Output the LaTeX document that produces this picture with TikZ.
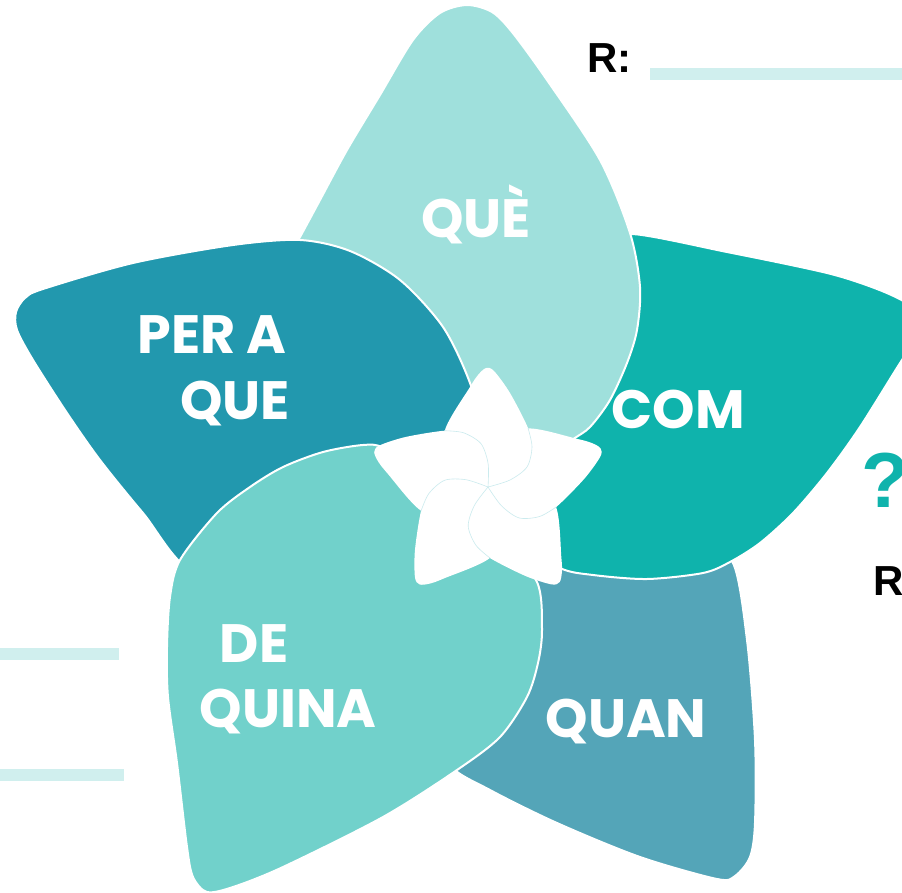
\documentclass[tikz,border=0pt]{standalone}
\usepackage{fontspec}
\newfontfamily\petalfont{Poppins}
\newfontfamily\answerfont{Liberation Sans}
\usetikzlibrary{positioning}
\definecolor{queColor}{HTML}{9FE0DC}
\definecolor{comColor}{HTML}{0FB3AC}
\definecolor{quanColor}{HTML}{54A5B8}
\definecolor{quinaColor}{HTML}{71D1CB}
\definecolor{peraColor}{HTML}{2298AE}
\definecolor{barColor}{HTML}{D0EFEE}
\definecolor{seamColor}{HTML}{CBEBEE}
\tikzset{
    petal/.style={
                fill=#1,
                draw=white,
                line width=2pt,
                line join=round
            },
    word/.style={
                text=white,
                font=\petalfont\bfseries\fontsize{54}{60}\selectfont,
                inner sep=0pt,
                anchor=base
            },
    answer/.style={
                font=\answerfont\bfseries\fontsize{42}{46}\selectfont,
                inner sep=0pt,
                anchor=base west
            },
    bar/.style={fill=barColor},
    seam/.style={draw=seamColor, line width=0.6pt},
}

\begin{document}
\begin{tikzpicture}[x=1pt,y=-1pt]
  \useasboundingbox (0,0) rectangle (902,893);
  \clip (0,0) rectangle (902,893);
  % Answer lines
  \fill[bar] (650,68) rectangle (902,80);
  \fill[bar] (0,648) rectangle (119,660);
  \fill[bar] (0,769) rectangle (124,781);
  \node[answer] (rtop) at (587,73) {R:};
  \node[answer] (rright) at (873,595) {R:};
  \node[answer, text=comColor, font=\answerfont\bfseries\fontsize{78}{80}\selectfont] (ask) at (861,507) {?};
  % Big petals
  \draw[petal=quanColor] plot[smooth cycle, tension=0.5] coordinates {(733,563) (747,640) (755,740) (755,823) (750,857) (735,876) (717,879) (640,857) (557,823) (490,790) (450,765) (440,720) (470,620) (500,540) (600,525) (700,545)};
  \draw[petal=comColor] plot[smooth cycle, tension=0.5] coordinates {(630,234) (727,252) (827,273) (877,289) (908,304) (922,322) (915,343) (902,360) (860,427) (827,473) (793,513) (760,543) (730,562) (703,573) (647,579) (593,575) (560,568) (520,540) (505,480) (545,410) (600,320) (620,255)};
  \draw[petal=queColor] plot[smooth cycle, tension=0.5] coordinates {(275,282) (300,237) (320,200) (347,150) (380,95) (413,40) (440,13) (467,5) (492,12) (512,32) (547,80) (600,160) (630,233) (640,287) (637,330) (627,363) (610,400) (590,427) (572,440) (530,470) (480,460) (420,370) (330,320)};
  \draw[petal=peraColor] plot[smooth cycle, tension=0.5] coordinates {(195,572) (143,513) (100,460) (67,413) (33,360) (17,330) (16,312) (25,298) (43,289) (133,263) (233,245) (300,240) (350,251) (400,280) (443,327) (470,383) (485,440) (460,490) (380,515) (280,550)};
  \draw[petal=quinaColor] plot[smooth cycle, tension=0.5] coordinates {(363,445) (385,448) (440,475) (500,540) (537,582) (542,630) (538,663) (527,697) (500,737) (457,770) (383,817) (283,867) (233,887) (207,892) (193,877) (187,847) (177,763) (168,697) (167,647) (170,597) (180,560) (217,513) (250,487) (283,467) (323,452)};
  % Small white star
  \foreach \ang in {0,-72,-144,-216,-288}
    \fill[white, shift={(488,487)}, rotate=\ang] plot[smooth cycle, tension=0.5] coordinates {(-2,-119) (6,-116) (22,-94) (40,-59) (44,-40) (39,-20) (22,-7) (0,2) (-20,0) (-38,-25) (-43,-57) (-18,-100) (-10,-112)};
  \foreach \ang in {0,-72,-144,-216,-288}
    \draw[seam, shift={(488,487)}, rotate=\ang] plot[smooth] coordinates {(40,-59) (44,-40) (39,-20) (22,-7) (0,0)};
  % Labels
  \node[word] (que) at (476,238) {QUÈ};
  \node[word] (pera) at (212,353) {PER A};
  \node[word] (perque) at (235,419) {QUE};
  \node[word] (com) at (678,428) {COM};
  \node[word] (quan) at (626,737) {QUAN};
  \node[word] (de) at (254,662) {DE};
  \node[word] (quina) at (288,727) {QUINA};
\end{tikzpicture}
\end{document}
